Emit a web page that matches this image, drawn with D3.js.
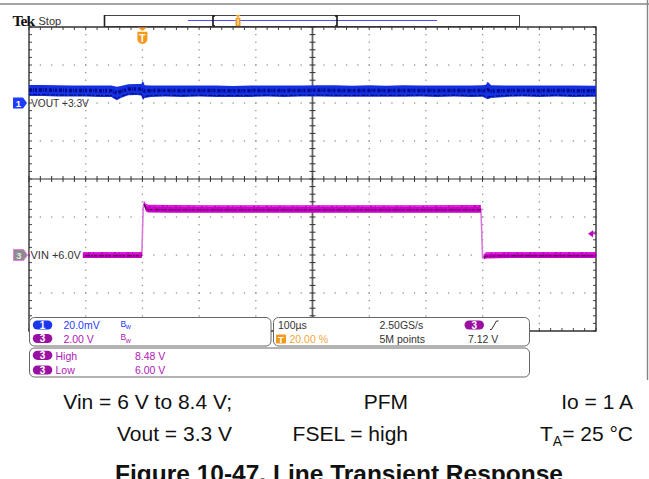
<!DOCTYPE html>
<html><head><meta charset="utf-8">
<script src="https://cdn.jsdelivr.net/npm/d3@7"></script>
<style>body{margin:0;background:#fff}svg{display:block}</style>
</head><body>
<svg id="c" width="649" height="479"></svg>
<script>
// ---------------- data ----------------
const timePerDivUs = 100;          // 100 µs/div
const triggerPercent = 20;         // trigger position 20.00 %
const ch1VoltsPerDiv = 0.020;      // 20.0 mV/div
const ch1Offset = 3.3;             // VOUT +3.3V
const ch1PosDiv = 2;
const ch3VoltsPerDiv = 2.0;        // 2.00 V/div
const ch3Offset = 6.0;             // VIN +6.0V
const ch3PosDiv = -2;
const triggerLevel = 7.12;

const voutTimeUs = [-200,-175,-150,-125,-100,-75,-55,-45,-38,-25,-10,-2,1,4,15,40,70,100,130,160,190,220,250,280,310,340,370,400,430,460,490,520,550,580,600,606,609,615,640,670,700,730,760,800];
const voutV      = [3.3066,3.3066,3.3064,3.3063,3.3063,3.3062,3.3062,3.3050,3.3058,3.3070,3.3071,3.3070,3.3066,3.3060,3.3062,3.3063,3.3062,3.3063,3.3062,3.3061,3.3062,3.3063,3.3062,3.3063,3.3064,3.3063,3.3062,3.3063,3.3062,3.3063,3.3063,3.3062,3.3063,3.3062,3.3063,3.3060,3.3066,3.3060,3.3062,3.3063,3.3062,3.3063,3.3062,3.3062];
const voutNoiseMv= [2.9,2.9,3.0,2.9,2.9,3.0,3.0,3.6,3.2,2.9,2.9,3.0,5.0,3.4,3.0,2.9,3.0,2.9,3.0,2.9,3.0,2.9,3.0,2.9,3.0,3.0,2.9,3.0,2.9,3.0,2.9,3.0,2.9,3.0,3.0,3.6,4.6,3.4,3.0,2.9,3.0,2.9,3.0,2.9];

const vinTimeUs = [-200,-150,-100,-50,-1,0.5,1.5,3,6,10,50,100,200,300,400,500,597,598.5,600,602,606,650,700,800];
const vinV      = [6.00,6.00,6.00,6.00,6.00,7.60,8.55,8.72,8.50,8.44,8.43,8.42,8.42,8.42,8.42,8.42,8.43,7.20,5.86,5.90,5.98,6.00,6.00,6.00];
const vinNoiseV = [0.16,0.16,0.16,0.16,0.16,0,0,0.12,0.2,0.2,0.2,0.2,0.2,0.2,0.2,0.2,0.2,0,0,0.14,0.16,0.16,0.16,0.16];

const ch1Readout = ["20.0mV"];
const ch3Readout = ["2.00 V"];
const timebase = ["100µs", "20.00 %"];
const sampling = ["2.50GS/s", "5M points"];
const trigReadout = ["7.12 V"];
const measLabels = ["High", "Low"];
const measValues = ["8.48 V", "6.00 V"];
const captionRow1 = ["Vin = 6 V to 8.4 V;", "PFM", "Io = 1 A"];
const captionRow2 = ["Vout = 3.3 V", "FSEL = high"];
const captionTitle = "Figure 10-47. Line Transient Response";

// ---------------- layout ----------------
const svg = d3.select("#c");
const X0 = 29, X1 = 596, Y0 = 27, Y1 = 331;
const xDiv = d3.scaleLinear().domain([0,10]).range([X0,X1]);
const yDiv = d3.scaleLinear().domain([4,-4]).range([Y0,Y1]);
const tMin = -triggerPercent/100*10*timePerDivUs;
const xT = d3.scaleLinear().domain([tMin, tMin + 10*timePerDivUs]).range([X0,X1]);
const y1 = d3.scaleLinear().domain([ch1Offset-(4+ch1PosDiv)*ch1VoltsPerDiv, ch1Offset+(4-ch1PosDiv)*ch1VoltsPerDiv]).range([Y1,Y0]);
const y3 = d3.scaleLinear().domain([ch3Offset-(4+ch3PosDiv)*ch3VoltsPerDiv, ch3Offset+(4-ch3PosDiv)*ch3VoltsPerDiv]).range([Y1,Y0]);
const SANS = "'Liberation Sans', Arial, sans-serif";

// top frame lines
svg.append("line").attr("x1",0).attr("x2",649).attr("y1",4).attr("y2",4).attr("stroke","#858585").attr("stroke-width",1.6);
svg.append("line").attr("x1",647.5).attr("x2",647.5).attr("y1",0).attr("y2",380).attr("stroke","#858585").attr("stroke-width",1.4);

// Tek Stop
svg.append("text").attr("x",12.5).attr("y",26).attr("font-family","'Liberation Serif', serif").attr("font-weight","bold").attr("font-size",15.5).attr("letter-spacing",-0.9).attr("fill","#111").text("Tek");
svg.append("text").attr("x",38.5).attr("y",25).attr("font-family",SANS).attr("font-size",11).attr("fill","#333").text("Stop");

// record view bar
svg.append("rect").attr("x",104.5).attr("y",15.5).attr("width",415).attr("height",11).attr("fill","#fff").attr("stroke","#444").attr("stroke-width",1);
svg.append("line").attr("x1",104.5).attr("x2",104.5).attr("y1",15).attr("y2",27).attr("stroke","#222").attr("stroke-width",1.6);
svg.append("line").attr("x1",188).attr("x2",437).attr("y1",20.5).attr("y2",20.5).attr("stroke","#4b4bff").attr("stroke-width",1.2);
[[213,1],[337,-1]].forEach(([bx,dir])=>{
  svg.append("path").attr("d",`M${bx+2*dir},16 H${bx} V26 H${bx+2*dir}`).attr("fill","none").attr("stroke","#111").attr("stroke-width",1.6);
});
svg.append("path").attr("d","M235.5,15 h5 l-2.5,2.5 z").attr("fill","#f39a1e");
svg.append("rect").attr("x",235.5).attr("y",17.5).attr("width",5).attr("height",9).attr("rx",1.5).attr("fill","#f39a1e");
svg.append("line").attr("x1",238).attr("x2",238).attr("y1",19).attr("y2",25).attr("stroke","#fff").attr("stroke-width",1);

// ---------------- graticule ----------------
const g = svg.append("g");
const sub = d3.range(0, 10.001, 0.2);
const subY = d3.range(-4, 4.001, 0.2);
[1,2,3,4,6,7,8,9].forEach(k=>{
  g.selectAll(null).data(subY).enter().append("rect")
    .attr("x", xDiv(k)-0.6).attr("y", d=>yDiv(d)-0.6).attr("width",1.3).attr("height",1.3).attr("fill","#939393");
});
[-3,-2,-1,1,2,3].forEach(k=>{
  g.selectAll(null).data(sub).enter().append("rect")
    .attr("x", d=>xDiv(d)-0.6).attr("y", yDiv(k)-0.6).attr("width",1.3).attr("height",1.3).attr("fill","#939393");
});
g.append("line").attr("x1",X0).attr("x2",X1).attr("y1",yDiv(0)).attr("y2",yDiv(0)).attr("stroke","#333").attr("stroke-width",1.2);
g.append("line").attr("x1",xDiv(5)).attr("x2",xDiv(5)).attr("y1",Y0).attr("y2",Y1).attr("stroke","#666").attr("stroke-width",1.8);
g.selectAll(null).data(sub).enter().append("line")
  .attr("x1",d=>xDiv(d)).attr("x2",d=>xDiv(d)).attr("y1",yDiv(0)-3).attr("y2",yDiv(0)+3).attr("stroke","#333").attr("stroke-width",1);
g.selectAll(null).data(subY).enter().append("line")
  .attr("x1",xDiv(5)-3).attr("x2",xDiv(5)+3).attr("y1",d=>yDiv(d)).attr("y2",d=>yDiv(d)).attr("stroke","#333").attr("stroke-width",1);
g.selectAll(null).data(sub).enter().append("line")
  .attr("x1",d=>xDiv(d)).attr("x2",d=>xDiv(d)).attr("y1",Y0).attr("y2",Y0+3).attr("stroke","#444").attr("stroke-width",1);
g.selectAll(null).data(sub).enter().append("line")
  .attr("x1",d=>xDiv(d)).attr("x2",d=>xDiv(d)).attr("y1",Y1-3).attr("y2",Y1).attr("stroke","#444").attr("stroke-width",1);
g.selectAll(null).data(subY).enter().append("line")
  .attr("x1",X0).attr("x2",X0+3).attr("y1",d=>yDiv(d)).attr("y2",d=>yDiv(d)).attr("stroke","#444").attr("stroke-width",1);
g.selectAll(null).data(subY).enter().append("line")
  .attr("x1",X1-3).attr("x2",X1).attr("y1",d=>yDiv(d)).attr("y2",d=>yDiv(d)).attr("stroke","#444").attr("stroke-width",1);
g.append("path").attr("d",`M${X0},${Y0} H${X1} V${Y1} H${X0} Z`).attr("fill","none").attr("stroke","#333").attr("stroke-width",1.4);

// ---------------- traces ----------------
const vout = voutTimeUs.map((t,i)=>({t, v:voutV[i], n:voutNoiseMv[i]/1000}));
const vin = vinTimeUs.map((t,i)=>({t, v:vinV[i], n:vinNoiseV[i]}));

svg.append("path").datum(vin).attr("fill","none").attr("stroke","#d77ad7").attr("stroke-width",1.6)
  .attr("d", d3.line().x(d=>xT(d.t)).y(d=>y3(d.v)));
svg.append("path").datum(vin).attr("fill","#c800c8")
  .attr("d", d3.area().defined(d=>d.n>0).x(d=>xT(d.t)).y0(d=>y3(d.v-d.n)).y1(d=>y3(d.v+d.n)));
svg.append("path").datum(vin).attr("fill","none").attr("stroke","#5c0058").attr("stroke-width",1.3).attr("stroke-dasharray","5,1,2,1,3,2")
  .attr("d", d3.line().defined(d=>d.n>0.1).x(d=>xT(d.t)).y(d=>y3(d.v-d.n*0.25)));
svg.append("path").datum(vin).attr("fill","none").attr("stroke","#ff40ff").attr("stroke-width",0.8).attr("stroke-dasharray","7,2,3,1")
  .attr("d", d3.line().defined(d=>d.n>0.1).x(d=>xT(d.t)).y(d=>y3(d.v+d.n*0.7)));

svg.append("path").datum(vout).attr("fill","#1530e0")
  .attr("d", d3.area().x(d=>xT(d.t)).y0(d=>y1(d.v-d.n)).y1(d=>y1(d.v+d.n)));
svg.append("path").datum(vout).attr("fill","none").attr("stroke","#000a8a").attr("stroke-width",3.5).attr("stroke-dasharray","3,1,1,1,2,2")
  .attr("d", d3.line().x(d=>xT(d.t)).y(d=>y1(d.v+0.0003)));
svg.append("path").datum(vout).attr("fill","none").attr("stroke","#00076a").attr("stroke-width",1).attr("stroke-dasharray","2,2,4,1")
  .attr("d", d3.line().x(d=>xT(d.t)).y(d=>y1(d.v-d.n*0.75)));

// ---------------- channel labels ----------------
const m1 = y1(ch1Offset);
svg.append("path").attr("d",`M13,${m1-5.5} h10 l4,5.5 l-4,5.5 h-10 z`).attr("fill","#1e3cff");
svg.append("text").attr("x",18.5).attr("y",m1+3.5).attr("text-anchor","middle").attr("font-family",SANS).attr("font-size",9.5).attr("font-weight","bold").attr("fill","#fff").text("1");
svg.append("text").attr("x",31).attr("y",m1+3.8).attr("font-family",SANS).attr("font-size",10.2).attr("fill","#333").text("VOUT +3.3V");

const m3 = y3(ch3Offset);
svg.append("rect").attr("x",29.8).attr("y",m3-6).attr("width",53).attr("height",12).attr("fill","#fff");
svg.append("path").attr("d",`M13.5,${m3-5.5} h10 l4,5.5 l-4,5.5 h-10 z`).attr("fill","#8c8c8c").attr("stroke","#e27de2").attr("stroke-width",1);
svg.append("text").attr("x",18.8).attr("y",m3+3.5).attr("text-anchor","middle").attr("font-family",SANS).attr("font-size",9.5).attr("font-weight","bold").attr("fill","#e8e8e8").text("3");
svg.append("text").attr("x",30.5).attr("y",m3+4).attr("font-family",SANS).attr("font-size",11).attr("fill","#333").text("VIN +6.0V");

const tl = y3(triggerLevel);
svg.append("path").attr("d",`M588,${tl} l5,-3.5 v7 z`).attr("fill","#c000c0");
svg.append("line").attr("x1",592).attr("x2",597).attr("y1",tl).attr("y2",tl).attr("stroke","#c000c0").attr("stroke-width",1.2);

const tx = xT(0);
svg.append("path").attr("d",`M${tx-4.5},27.5 h9 l-4.5,3.5 z`).attr("fill","#f39a1e");
svg.append("path").attr("d",`M${tx-5},31.8 h10 v7.5 q0,3.8 -5,4.8 q-5,-1 -5,-4.8 z`).attr("fill","#f39a1e");
svg.append("text").attr("x",tx).attr("y",41.5).attr("text-anchor","middle").attr("font-family",SANS).attr("font-size",10).attr("font-weight","bold").attr("fill","#fff").text("T");

// ---------------- readout boxes ----------------
function box(x,y,w,h){ svg.append("rect").attr("x",x).attr("y",y).attr("width",w).attr("height",h).attr("rx",5).attr("fill","#fff").attr("stroke","#666").attr("stroke-width",1); }
function oval(x,cy,label,fill){
  svg.append("rect").attr("x",x).attr("y",cy-4.6).attr("width",19.5).attr("height",9.2).attr("rx",4.6).attr("fill",fill);
  svg.append("text").attr("x",x+9.75).attr("y",cy+3.6).attr("text-anchor","middle").attr("font-family",SANS).attr("font-size",10).attr("font-weight","bold").attr("fill","#fff").text(label);
}
function txt(x,y,s,fill,size){ return svg.append("text").attr("x",x).attr("y",y).attr("font-family",SANS).attr("font-size",size||10.5).attr("fill",fill).text(s); }
function bw(x,y,fill){
  const t = svg.append("text").attr("x",x).attr("y",y).attr("font-family",SANS).attr("font-size",8.5).attr("fill",fill);
  t.append("tspan").text("B");
  t.append("tspan").attr("dy",2.5).attr("dx",-0.5).attr("font-size",7).text("w");
}
box(29.5,317.5,241.5,28.5);
box(273.5,317.5,256,28.5);
box(29.5,348,500,29);

const C1 = "#2a3cff", C3T = "#b016b8";
oval(32.8,325,"1","#1b37ee");
txt(63.5,329.3,ch1Readout[0],C1);
bw(120.5,326.5,C1);
oval(32.8,338.5,"3","#9a10a3");
txt(63.5,342.8,ch3Readout[0],C3T);
bw(120.5,340,C3T);

txt(278,329.3,timebase[0],"#333");
svg.append("rect").attr("x",276).attr("y",334.5).attr("width",10).attr("height",9).attr("rx",1).attr("fill","#f39a1e");
svg.append("text").attr("x",281).attr("y",342.6).attr("text-anchor","middle").attr("font-family",SANS).attr("font-size",9.5).attr("font-weight","bold").attr("fill","#fff").text("T");
txt(289.5,342.8,timebase[1],"#f5a53c");
txt(379.5,329.3,sampling[0],"#333");
txt(379.5,342.8,sampling[1],"#333");
oval(464.5,325,"3","#9a10a3");
svg.append("path").attr("d","M490,329.5 h1.5 l5,-8.5 h2").attr("fill","none").attr("stroke","#333").attr("stroke-width",1);
txt(468,342.8,trigReadout[0],"#333");

oval(32.8,355.3,"3","#9a10a3");
txt(55.5,359.5,measLabels[0],C3T);
txt(135,359.5,measValues[0],C3T);
oval(32.8,370,"3","#9a10a3");
txt(55.5,374,measLabels[1],C3T);
txt(135,374,measValues[1],C3T);

// ---------------- caption ----------------
const capX = [232, 408, 633];
const CAP = 21;
captionRow1.forEach((s,i)=>{
  svg.append("text").attr("x",capX[i]).attr("y",409).attr("text-anchor","end").attr("font-family",SANS).attr("font-size",CAP).attr("fill","#111").text(s);
});
captionRow2.forEach((s,i)=>{
  svg.append("text").attr("x",capX[i]).attr("y",441).attr("text-anchor","end").attr("font-family",SANS).attr("font-size",CAP).attr("fill","#111").text(s);
});
const ta = svg.append("text").attr("x",capX[2]).attr("y",441).attr("text-anchor","end").attr("font-family",SANS).attr("font-size",CAP).attr("fill","#111");
ta.append("tspan").text("T");
ta.append("tspan").attr("font-size",14).attr("dy",5).text("A");
ta.append("tspan").attr("dy",-5).text("= 25 °C");
svg.append("text").attr("x",339).attr("y",482).attr("text-anchor","middle").attr("font-family",SANS).attr("font-size",24.5).attr("font-weight","bold").attr("fill","#111").text(captionTitle);
</script>
</body></html>
